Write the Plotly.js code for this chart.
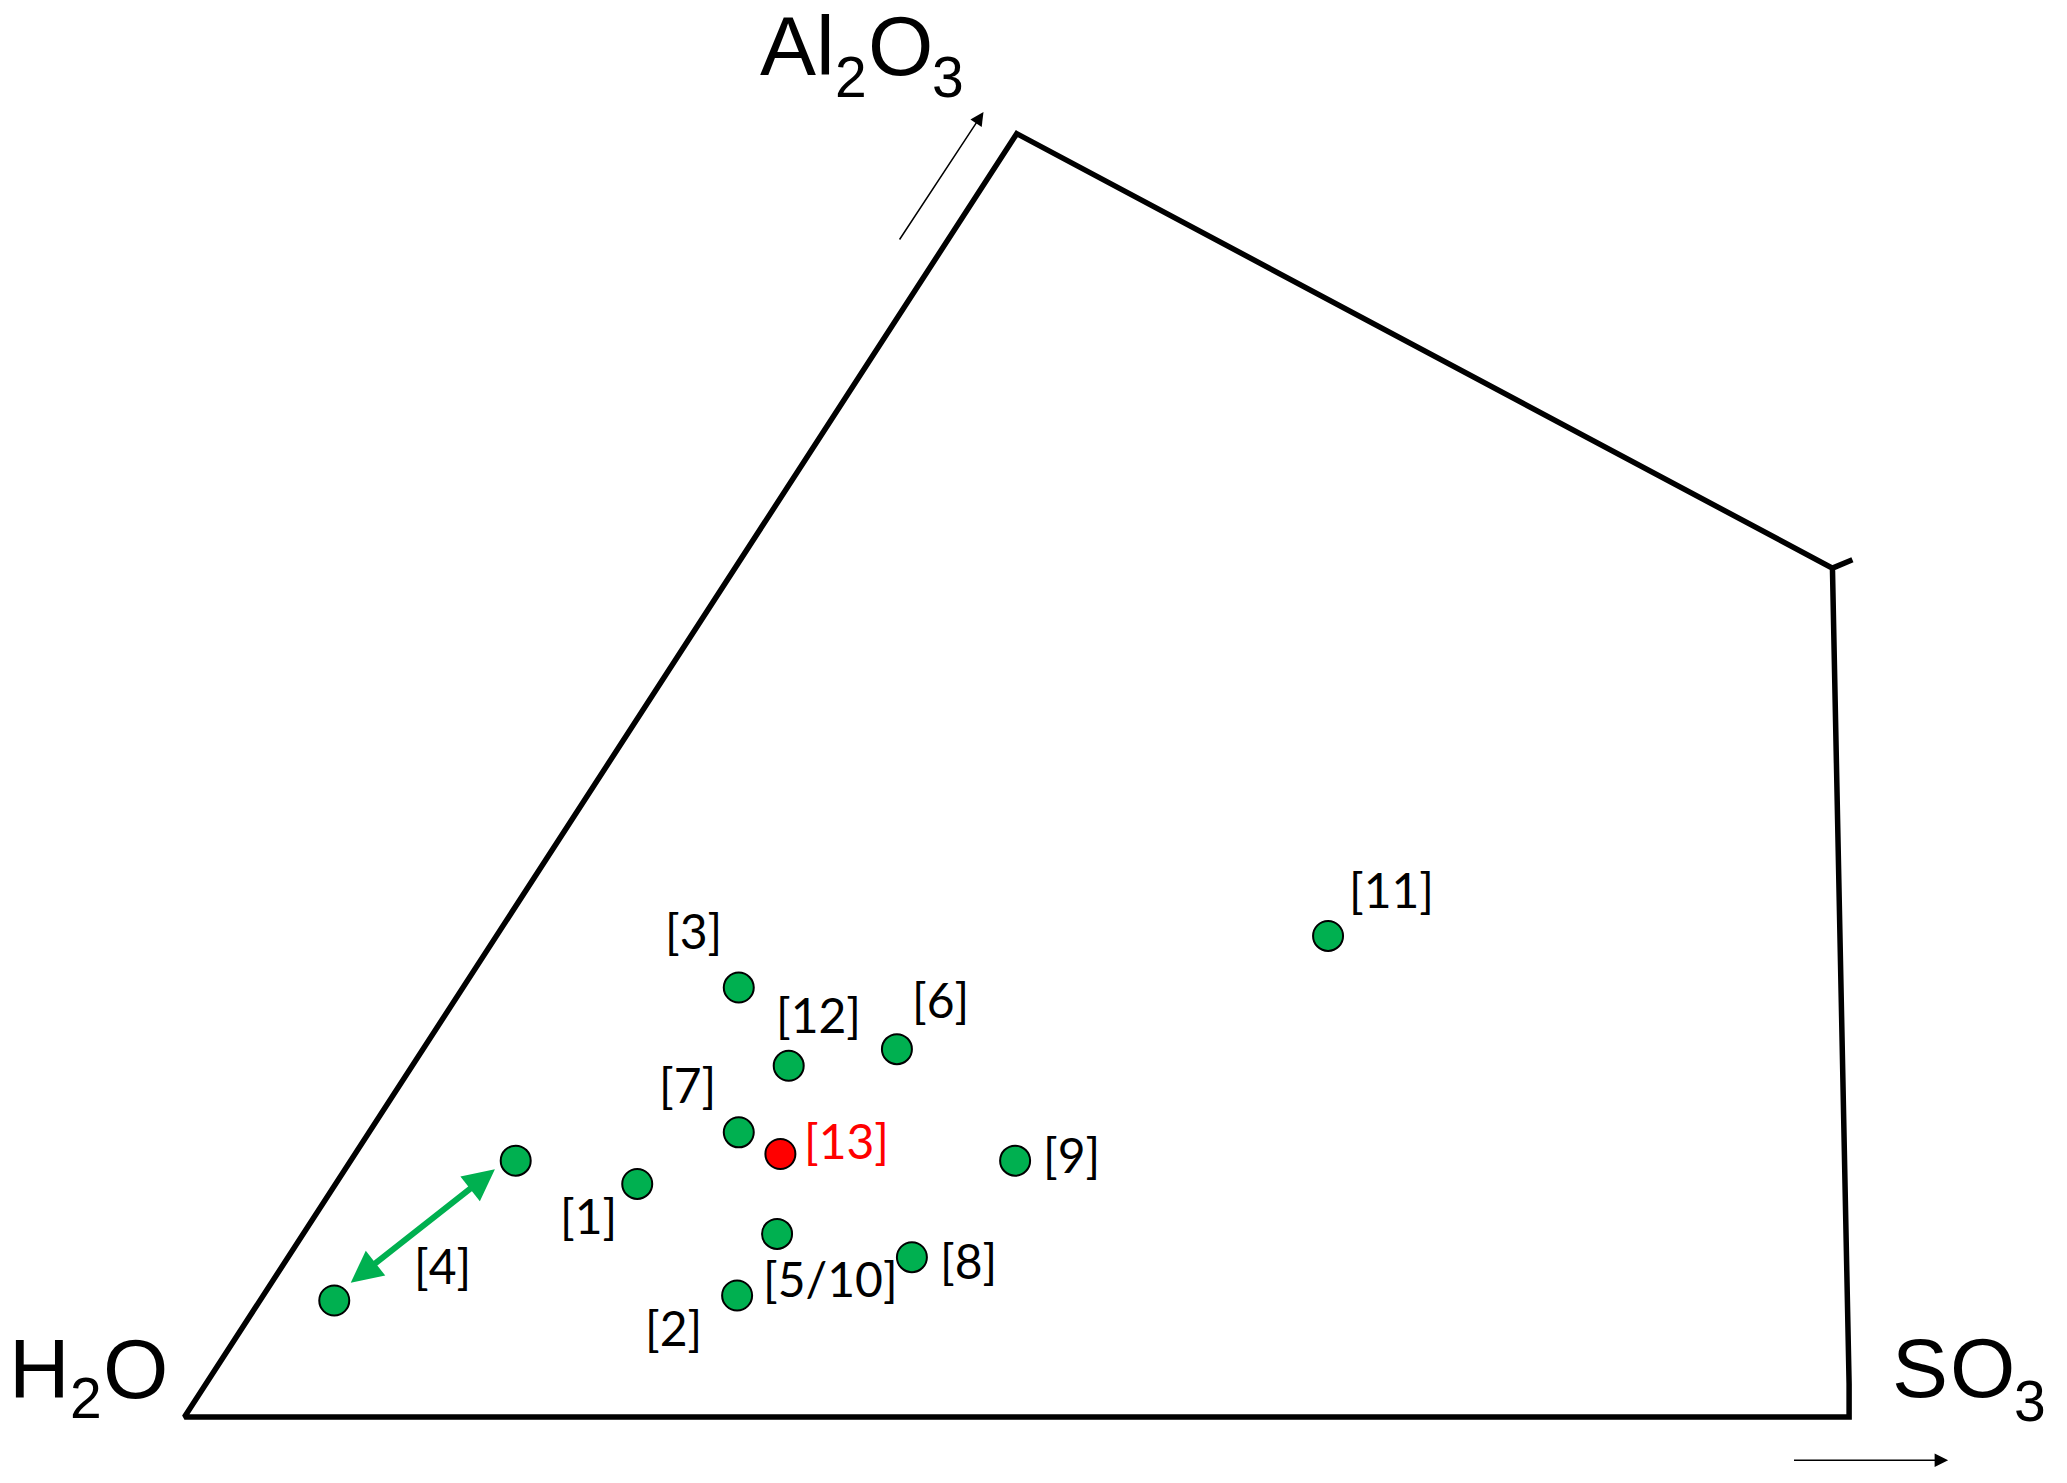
<!DOCTYPE html>
<html>
<head>
<meta charset="utf-8">
<script src="https://cdn.plot.ly/plotly-3.0.1.min.js"></script>
<style>
  html, body { margin: 0; padding: 0; background: white; }
  #chart { width: 2067px; height: 1483px; }
</style>
</head>
<body>
<div id="chart"></div>
<script>
// diagram frame (H2O corner at 0,0; SO3 corner at 100,0)
const frameX = [100.2, 99.0, 50.0, 0, 100, 100, 99.0];
const frameY = [51.5, 51.0, 77.1, 0, 0, 2.0, 51.0];

// literature points
const refIds = ['[1]', '[2]', '[3]', '[4]', '[4]', '[5/10]', '[6]', '[7]', '[8]', '[9]', '[11]', '[12]'];
const refX = [27.2, 33.2, 33.3, 19.9, 9.0, 35.6, 42.8, 33.3, 43.7, 49.9, 68.7, 36.3];
const refY = [14.0, 7.3, 25.8, 15.4, 7.0, 11.0, 22.1, 17.1, 9.6, 15.4, 28.9, 21.1];

// this work
const ownId = '[13]';
const ownX = [35.8];
const ownY = [15.8];

// label placement
const labelText = ['[1]', '[2]', '[3]', '[4]', '[5/10]', '[6]', '[7]', '[8]', '[9]', '[11]', '[12]', '[13]'];
const labelX = [24.3, 29.4, 30.6, 15.5, 38.8, 45.4, 30.2, 47.1, 53.3, 72.5, 38.1, 39.8];
const labelY = [12.1, 5.4, 29.2, 9.1, 8.3, 25.1, 20.0, 9.4, 15.8, 31.7, 24.2, 16.6];

// range of [4]
const rangeX = [9.9, 18.65];
const rangeY = [8.0, 14.88];

// component names, split so the subscripts sit low like in the drawing
const compText = ['Al', '2', 'O', '3', 'H', '2', 'O', 'S', 'O', '3'];
const compSub = [false, true, false, true, false, true, false, false, false, true];
const compX = [36.8, 40.04, 43.04, 45.89, -8.68, -5.92, -2.97, 104.26, 107.99, 110.87];
const compY = [82.34, 80.5, 82.34, 80.5, 2.91, 1.14, 2.91, 2.97, 2.97, 0.96];

const green = '#00B050';
const red = '#FF0000';

const traces = [
    {
        x: frameX,
        y: frameY,
        type: 'scatter',
        mode: 'lines',
        line: { color: 'black', width: 5.5 },
        hoverinfo: 'skip'
    },
    {
        x: refX,
        y: refY,
        text: refIds,
        type: 'scatter',
        mode: 'markers',
        marker: { size: 30, color: green, line: { color: 'black', width: 2 } }
    },
    {
        x: ownX,
        y: ownY,
        text: [ownId],
        type: 'scatter',
        mode: 'markers',
        marker: { size: 30, color: red, line: { color: 'black', width: 2 } }
    }
];

const annotations = labelText.map((t, i) => ({
    x: labelX[i],
    y: labelY[i],
    xref: 'x',
    yref: 'y',
    text: t,
    showarrow: false,
    xanchor: 'center',
    yanchor: 'middle',
    font: { family: 'Lato, "Open Sans", sans-serif', size: 48, color: t === ownId ? red : 'black' }
}));

compText.forEach((t, i) => {
    annotations.push({
        x: compX[i],
        y: compY[i],
        xref: 'x',
        yref: 'y',
        text: t,
        showarrow: false,
        xanchor: 'center',
        yanchor: 'middle',
        font: { family: '"Liberation Sans", Arial, sans-serif', size: compSub[i] ? 57 : 84, color: 'black' }
    });
});

// direction arrows
annotations.push(
    { x: 48.0, y: 78.4, ax: 42.9, ay: 70.65, xref: 'x', yref: 'y', axref: 'x', ayref: 'y', text: '', showarrow: true, arrowhead: 2, arrowsize: 1.8, arrowwidth: 1.5, arrowcolor: 'black', standoff: 0 },
    { x: 105.95, y: -2.6, ax: 96.6, ay: -2.6, xref: 'x', yref: 'y', axref: 'x', ayref: 'y', text: '', showarrow: true, arrowhead: 2, arrowsize: 1.8, arrowwidth: 1.5, arrowcolor: 'black', standoff: 0 },
    { x: rangeX[1], y: rangeY[1], ax: rangeX[0], ay: rangeY[0], xref: 'x', yref: 'y', axref: 'x', ayref: 'y', text: '', showarrow: true, arrowhead: 2, arrowside: 'end+start', arrowsize: 1.05, arrowwidth: 6, arrowcolor: green, standoff: 0, startstandoff: 0 }
);

const layout = {
    width: 2067,
    height: 1483,
    margin: { t: 0, r: 0, b: 0, l: 0 },
    paper_bgcolor: 'white',
    plot_bgcolor: 'white',
    showlegend: false,
    xaxis: { range: [-11.08, 113.09], visible: false, fixedrange: true },
    yaxis: { range: [-3.965, 85.13], visible: false, fixedrange: true },
    annotations: annotations,
    hovermode: 'closest'
};

Plotly.newPlot('chart', traces, layout, { displayModeBar: false, staticPlot: true });
</script>
</body>
</html>
